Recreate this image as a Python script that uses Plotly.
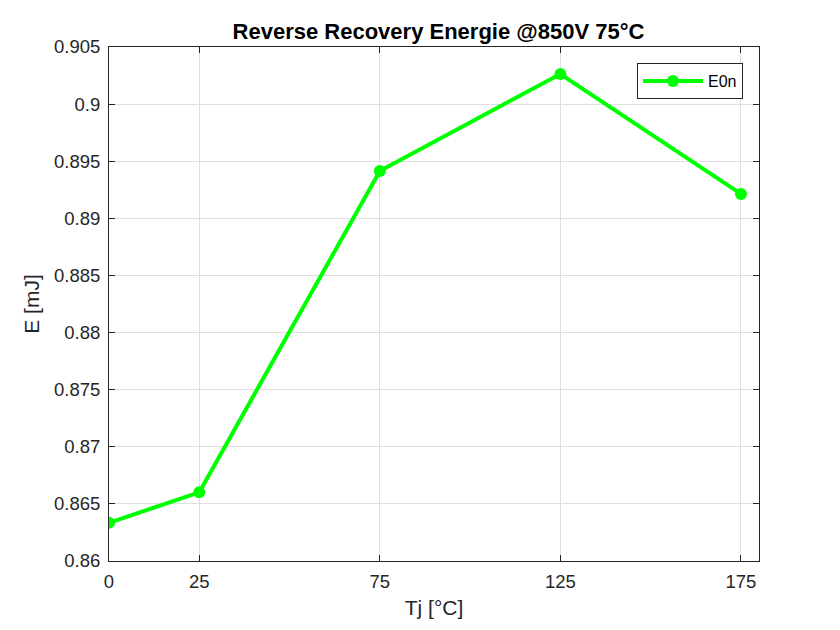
import plotly.graph_objects as go

tj = [0, 25, 75, 125, 175]
e_on = [0.86335, 0.86601, 0.89415, 0.90264, 0.89214]
x_ticks = [0, 25, 75, 125, 175]
y_ticks = [0.86, 0.865, 0.87, 0.875, 0.88, 0.885, 0.89, 0.895, 0.9, 0.905]
y_labels = ["0.86", "0.865", "0.87", "0.875", "0.88", "0.885", "0.89", "0.895", "0.9", "0.905"]

FONT = "Liberation Sans, Arial"

fig = go.Figure()
fig.add_trace(go.Scatter(
    x=tj, y=e_on, mode="lines+markers", name="E0n",
    line=dict(color="#00ff00", width=4),
    marker=dict(color="#00ff00", size=12),
))

axis_common = dict(
    showline=True, linecolor="#262626", linewidth=1, mirror="ticks",
    ticks="inside", ticklen=6, tickcolor="#262626",
    showgrid=True, gridcolor="#dedede", gridwidth=1,
    zeroline=False,
    tickfont=dict(family=FONT, size=18.5, color="#262626"),
)

fig.update_layout(
    width=840, height=630,
    margin=dict(l=101, r=89, t=39, b=77),
    paper_bgcolor="white", plot_bgcolor="white",
    title=dict(text="<b>Reverse Recovery Energie @850V 75°C</b>",
               x=0.5125, xanchor="center",
               y=1 - 23 / 630, yanchor="middle",
               font=dict(family=FONT, size=22, color="black")),
    xaxis=dict(range=[0, 180], tickvals=x_ticks, ticklabelstandoff=4,
               title=dict(text="Tj [°C]", standoff=9,
                          font=dict(family=FONT, size=21, color="#262626")),
               **axis_common),
    yaxis=dict(range=[0.86, 0.905], tickvals=y_ticks, ticktext=y_labels,
               ticklabelstandoff=4,
               title=dict(text="E [mJ]", standoff=8,
                          font=dict(family=FONT, size=21, color="#262626")),
               **axis_common),
    showlegend=True,
    legend=dict(x=(743 - 109) / 650, y=1 - (63 - 47) / 514, xanchor="right", yanchor="top",
                bordercolor="#262626", borderwidth=1, bgcolor="white",
                itemwidth=60,
                font=dict(family=FONT, size=16, color="black")),
)

fig.write_html("out.html")
